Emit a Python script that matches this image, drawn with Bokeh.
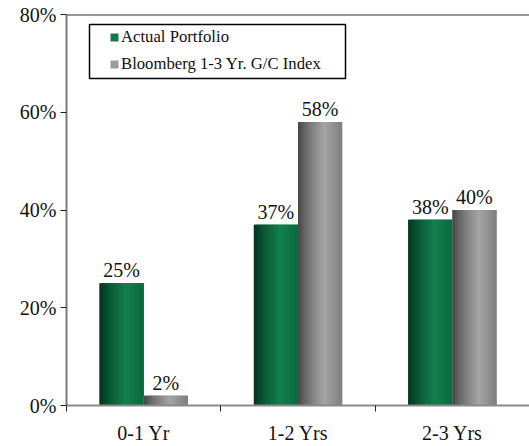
from bokeh.plotting import figure
from bokeh.models import (ColumnDataSource, FixedTicker, Span, Legend, LegendItem,
                          Range1d, BoxAnnotation)
from bokeh.transform import dodge
from bokeh.core.properties import value
from bokeh.embed import file_html
from bokeh.resources import INLINE

# ---- data ----
categories = ["0-1 Yr", "1-2 Yrs", "2-3 Yrs"]
actual_portfolio = [25, 37, 38]
bloomberg_index = [2, 58, 40]
series_names = ["Actual Portfolio", "Bloomberg 1-3 Yr. G/C Index"]
y_ticks = [0, 20, 40, 60, 80]

FONT = "Liberation Serif"

idx = [i + 0.5 for i in range(len(categories))]
source = ColumnDataSource(dict(
    x=idx,
    actual=actual_portfolio,
    index=bloomberg_index,
    actual_lbl=[f"{v}%" for v in actual_portfolio],
    index_lbl=[f"{v}%" for v in bloomberg_index],
))

p = figure(width=529, height=446, output_backend="svg", toolbar_location=None,
           x_range=Range1d(0, len(categories)), y_range=Range1d(0, 80),
           min_border=0, min_border_left=66, min_border_right=0, min_border_top=14,
           min_border_bottom=0,
           background_fill_color="white", border_fill_color="white")
p.outline_line_color = None
p.xgrid.grid_line_color = None
p.ygrid.grid_line_color = None

BW = 0.286
N = 16


def shade(t, dark, light, end_factor):
    if t < 0.6:
        f = (t / 0.6) ** 0.7
    else:
        f = 1 - (1 - end_factor) * ((t - 0.6) / 0.4)
    c = [int(d + (l - d) * f) for d, l in zip(dark, light)]
    return "#%02x%02x%02x" % tuple(c)


green_dark, green_light = (0, 46, 24), (18, 128, 80)
gray_dark, gray_light = (62, 62, 62), (165, 165, 165)

legend_renderers = []
for col, off, dark, light, endf in [("actual", -BW / 2, green_dark, green_light, 0.72),
                                     ("index", BW / 2, gray_dark, gray_light, 0.62)]:
    base = p.vbar(x=dodge("x", off), top=col, width=BW, bottom=0, source=source,
                  fill_color=shade(0.7, dark, light, endf), line_color=None)
    legend_renderers.append(base)
    sw = BW / N
    for k in range(N):
        t = (k + 0.5) / N
        c = shade(t, dark, light, endf)
        left = off - BW / 2 + k * sw
        right = min(left + 2 * sw, off + BW / 2)
        p.vbar(x=dodge("x", (left + right) / 2), top=col, width=right - left, bottom=0,
               source=source, fill_color=c, line_color=None)

# value labels
for col, off in [("actual", -BW / 2), ("index", BW / 2)]:
    p.text(x=dodge("x", off), y=col, text=col + "_lbl", source=source,
           text_align="center", text_baseline="bottom", y_offset=-2,
           text_font=value(FONT), text_font_size="20px", text_color="#111111")

# top border line
p.add_layout(Span(location=80, dimension="width", line_color="#333333", line_width=2))

# axes
p.yaxis.ticker = FixedTicker(ticks=y_ticks)
p.yaxis.major_label_overrides = {v: f"{v}%" for v in y_ticks}
p.yaxis.major_tick_in = 0
p.yaxis.major_tick_out = 6
p.yaxis.minor_tick_line_color = None
p.yaxis.axis_line_color = "#7a7a7a"
p.yaxis.axis_line_width = 2
p.yaxis.major_tick_line_color = "#222222"
p.yaxis.major_label_text_font = FONT
p.yaxis.major_label_text_font_size = "20px"
p.yaxis.major_label_text_color = "#111111"
p.yaxis.major_label_standoff = 4

p.xaxis.ticker = FixedTicker(ticks=idx, minor_ticks=list(range(len(categories) + 1)))
p.xaxis.major_label_overrides = {x: c for x, c in zip(idx, categories)}
p.xaxis.major_tick_in = 0
p.xaxis.major_tick_out = 0
p.xaxis.minor_tick_in = 0
p.xaxis.minor_tick_out = 6
p.xaxis.minor_tick_line_color = "#222222"
p.xaxis.axis_line_color = "#8a8a8a"
p.xaxis.axis_line_width = 2
p.xaxis.major_label_text_font = FONT
p.xaxis.major_label_text_font_size = "20px"
p.xaxis.major_label_text_color = "#111111"
p.xaxis.major_label_standoff = 10

# legend frame (canvas pixels) and legend
p.add_layout(BoxAnnotation(left=89, right=345, top=24, bottom=78,
                           left_units="canvas", right_units="canvas",
                           top_units="canvas", bottom_units="canvas",
                           fill_color="white", fill_alpha=1,
                           line_color="black", line_width=1.5, line_alpha=1))

legend = Legend(items=[LegendItem(label=series_names[0], renderers=[legend_renderers[0]]),
                       LegendItem(label=series_names[1], renderers=[legend_renderers[1]])],
                location=(43, 331), orientation="vertical",
                label_text_font=FONT, label_text_font_size="16.7px",
                label_text_color="#111111",
                glyph_width=10, glyph_height=10, label_standoff=2,
                label_height=20, spacing=7, padding=0, margin=0,
                border_line_color=None, background_fill_alpha=0)
p.add_layout(legend)

open("out.html", "w").write(file_html(p, INLINE))
